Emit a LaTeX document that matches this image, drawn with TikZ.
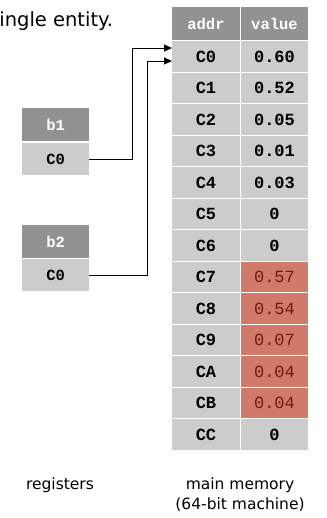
\documentclass[tikz,border=0pt]{standalone}
\usepackage{fontspec}
\setmainfont{DejaVu Sans}
\setmonofont{Liberation Mono}
\usetikzlibrary{arrows.meta,calc}
\definecolor{hdr}{HTML}{929292}
\definecolor{cellg}{HTML}{CCCCCC}
\definecolor{cellr}{HTML}{D07A69}
\definecolor{txtr}{HTML}{6E1A0C}
\begin{document}
\begin{tikzpicture}[x=1pt,y=-1pt,
  cellbox/.style={anchor=north west,inner sep=0pt,minimum width=67.5pt,minimum height=30.5pt,fill=cellg,font=\ttfamily\bfseries\fontsize{17}{17}\selectfont,text=black},
  hdrbox/.style={cellbox,minimum height=33pt,fill=hdr,text=white,font=\ttfamily\bfseries\fontsize{15.5}{16}\selectfont},
  redbox/.style={cellbox,fill=cellr,text=txtr,font=\ttfamily\fontsize{17}{17}\selectfont},
  regbox/.style={anchor=north west,inner sep=0pt,minimum width=67pt,minimum height=33pt,fill=cellg,font=\ttfamily\bfseries\fontsize{15.5}{16}\selectfont},
  reghdr/.style={regbox,fill=hdr,text=white},
  conn/.style={line width=0.9pt,-{Triangle[length=8pt,width=7pt]}},
  lbl/.style={font=\fontsize{15.5}{20}\selectfont,align=center}]
\useasboundingbox (0,0) rectangle (326,518);
\clip (0,0) rectangle (326,518);
\node[anchor=base west,font=\fontsize{19.5}{22}\selectfont,inner sep=0pt] (title) at (-11,27) {single entity.};
% memory header
\node[hdrbox] (ha) at (172,7) {addr};
\node[hdrbox] (hv) at (240.5,7) {value};
% memory rows
\foreach \i/\a/\v/\s in {0/C0/0.60/cellbox,1/C1/0.52/cellbox,2/C2/0.05/cellbox,3/C3/0.01/cellbox,4/C4/0.03/cellbox,5/C5/0/cellbox,6/C6/0/cellbox,7/C7/0.57/redbox,8/C8/0.54/redbox,9/C9/0.07/redbox,10/CA/0.04/redbox,11/CB/0.04/redbox,12/CC/0/cellbox}{
  \node[cellbox] (a\i) at (172,41+31.5*\i) {\a};
  \node[\s] (v\i) at (240.5,41+31.5*\i) {\v};
}
% registers
\node[reghdr] (b1h) at (22,108) {b1};
\node[regbox,minimum height=32pt] (b1v) at (22,143) {C0};
\node[reghdr] (b2h) at (22,225) {b2};
\node[regbox,minimum height=32pt] (b2v) at (22,259) {C0};
% arrow targets
\coordinate (t1) at ($(a0.north west)+(0,7)$);
\coordinate (t2) at ($(a0.north west)+(0,20)$);
\draw[conn] (b1v.east) -- ++(43,0) |- (t1);
\draw[conn] (b2v.east) -- ++(58,0) |- (t2);
% labels
\node[lbl] (lreg) at (60,485) {registers};
\node[lbl,anchor=north] (lmem) at (240,474) {main memory\\(64-bit machine)};
\end{tikzpicture}
\end{document}
